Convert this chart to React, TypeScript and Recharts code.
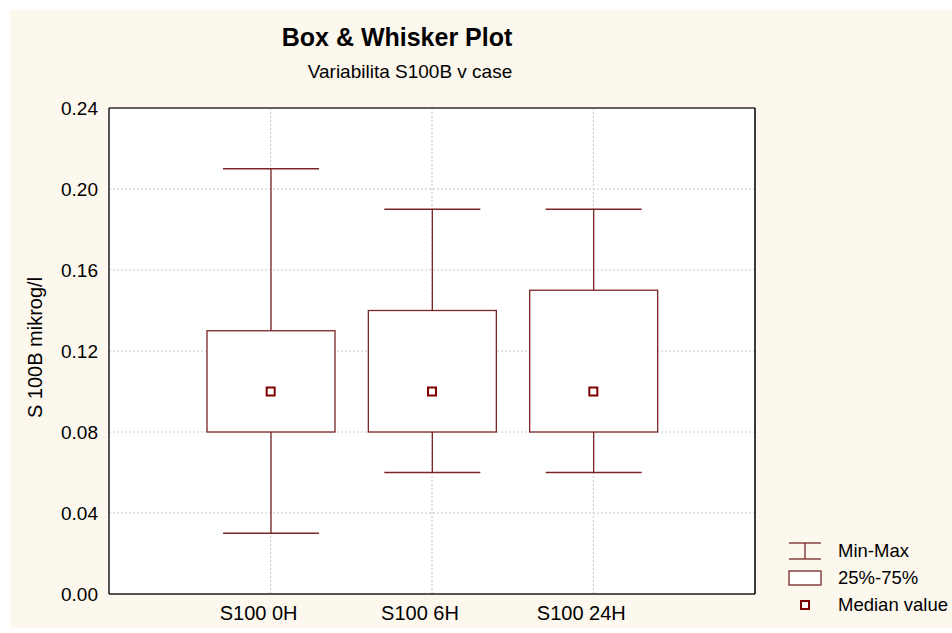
import {
  ComposedChart,
  Bar,
  Scatter,
  XAxis,
  YAxis,
  CartesianGrid,
} from "recharts";

// Box & whisker summary per sampling time
const categories = ["S100 0H", "S100 6H", "S100 24H"];
const minValues = [0.03, 0.06, 0.06];
const q1Values = [0.08, 0.08, 0.08];
const medianValues = [0.1, 0.1, 0.1];
const q3Values = [0.13, 0.14, 0.15];
const maxValues = [0.21, 0.19, 0.19];
const yTicks = [0, 0.04, 0.08, 0.12, 0.16, 0.2, 0.24];

const BOX_COLOR = "#7a2626";
const MEDIAN_COLOR = "#800000";
const FONT = "'Liberation Sans', Arial, sans-serif";

const data = categories.map((name, i) => ({
  name,
  whisker: [minValues[i], maxValues[i]],
  box: [q1Values[i], q3Values[i]],
  median: medianValues[i],
}));

function WhiskerShape(props: any) {
  const { x, y, width, height } = props;
  const cx = x + width / 2;
  return (
    <g stroke={BOX_COLOR} strokeWidth={1.3}>
      <line x1={cx} x2={cx} y1={y} y2={y + height} />
      <line x1={x} x2={x + width} y1={y} y2={y} />
      <line x1={x} x2={x + width} y1={y + height} y2={y + height} />
    </g>
  );
}

function BoxShape(props: any) {
  const { x, y, width, height } = props;
  return (
    <rect x={x} y={y} width={width} height={height} fill="#fff" stroke={BOX_COLOR} strokeWidth={1.3} />
  );
}

function MedianShape(props: any) {
  const { cx, cy } = props;
  return (
    <rect x={cx - 4} y={cy - 4} width={8} height={8} fill="#fff" stroke={MEDIAN_COLOR} strokeWidth={2} />
  );
}

const yTickStyle = { fontSize: 19, fill: "#000", fontFamily: FONT };
const xTickStyle = { fontSize: 20, fill: "#000", fontFamily: FONT, dx: -12 };
const xPadding = { left: 81, right: 81 };

export default function App() {
  return (
    <div
      style={{
        position: "fixed",
        left: 10,
        top: 10,
        width: 942,
        height: 618,
        background: "#fdf8ee",
        fontFamily: FONT,
      }}
    >
      <div style={{ position: "absolute", left: 187, width: 400, top: 13, textAlign: "center", fontSize: 25, fontWeight: "bold" }}>
        Box &amp; Whisker Plot
      </div>
      <div style={{ position: "absolute", left: 200, width: 400, top: 51, textAlign: "center", fontSize: 19 }}>
        Variabilita S100B v case
      </div>
      <div
        style={{
          position: "absolute",
          left: 25 - 100,
          top: 338 - 12,
          width: 200,
          textAlign: "center",
          fontSize: 20,
          transform: "rotate(-90deg)",
        }}
      >
        S 100B mikrog/l
      </div>

      <ComposedChart width={942} height={618} data={data} margin={{ top: 97, right: 196, bottom: 4, left: 0 }}>
        <CartesianGrid stroke="#c8c8c8" strokeDasharray="2 2" fill="#fff" fillOpacity={1} />
        <XAxis
          dataKey="name"
          padding={xPadding}
          tick={xTickStyle}
          tickLine={false}
          tickMargin={6}
          height={30}
          axisLine={{ stroke: "#222", strokeWidth: 1.5 }}
        />
        <XAxis xAxisId="w" dataKey="name" padding={xPadding} hide />
        <XAxis xAxisId="b" dataKey="name" padding={xPadding} hide />
        <XAxis
          xAxisId="top"
          dataKey="name"
          orientation="top"
          height={1}
          tick={false}
          tickLine={false}
          axisLine={{ stroke: "#333", strokeWidth: 1.5 }}
        />
        <YAxis
          domain={[0, 0.24]}
          ticks={yTicks}
          tickFormatter={(v: number) => v.toFixed(2)}
          tick={yTickStyle}
          tickLine={false}
          tickMargin={5}
          width={99}
          axisLine={{ stroke: "#222", strokeWidth: 1.5 }}
          allowDataOverflow
        />
        <YAxis
          yAxisId="right"
          orientation="right"
          domain={[0, 0.24]}
          width={1}
          tick={false}
          tickLine={false}
          axisLine={{ stroke: "#000", strokeWidth: 1.5 }}
        />
        <Bar xAxisId="w" dataKey="whisker" barSize={96} shape={WhiskerShape} isAnimationActive={false} />
        <Bar xAxisId="b" dataKey="box" barSize={128} shape={BoxShape} isAnimationActive={false} />
        <Scatter dataKey="median" shape={MedianShape} isAnimationActive={false} />
      </ComposedChart>

      <div
        style={{
          position: "absolute",
          left: 778,
          top: 527,
          width: 164,
          fontSize: 18.5,
          lineHeight: "27px",
          whiteSpace: "nowrap",
        }}
      >
        <div style={{ display: "flex", alignItems: "center" }}>
          <svg width={34} height={20} style={{ marginRight: 16, flexShrink: 0 }}>
            <g stroke={BOX_COLOR} strokeWidth={1.3}>
              <line x1={1} x2={33} y1={2} y2={2} />
              <line x1={1} x2={33} y1={18} y2={18} />
              <line x1={17} x2={17} y1={2} y2={18} />
            </g>
          </svg>
          Min-Max
        </div>
        <div style={{ display: "flex", alignItems: "center" }}>
          <svg width={34} height={20} style={{ marginRight: 16, flexShrink: 0 }}>
            <rect x={1} y={3} width={32} height={14} fill="#fff" stroke={BOX_COLOR} strokeWidth={1.3} />
          </svg>
          25%-75%
        </div>
        <div style={{ display: "flex", alignItems: "center" }}>
          <svg width={34} height={20} style={{ marginRight: 16, flexShrink: 0 }}>
            <rect x={13} y={6} width={8} height={8} fill="#fff" stroke={MEDIAN_COLOR} strokeWidth={2} />
          </svg>
          Median value
        </div>
      </div>
    </div>
  );
}
